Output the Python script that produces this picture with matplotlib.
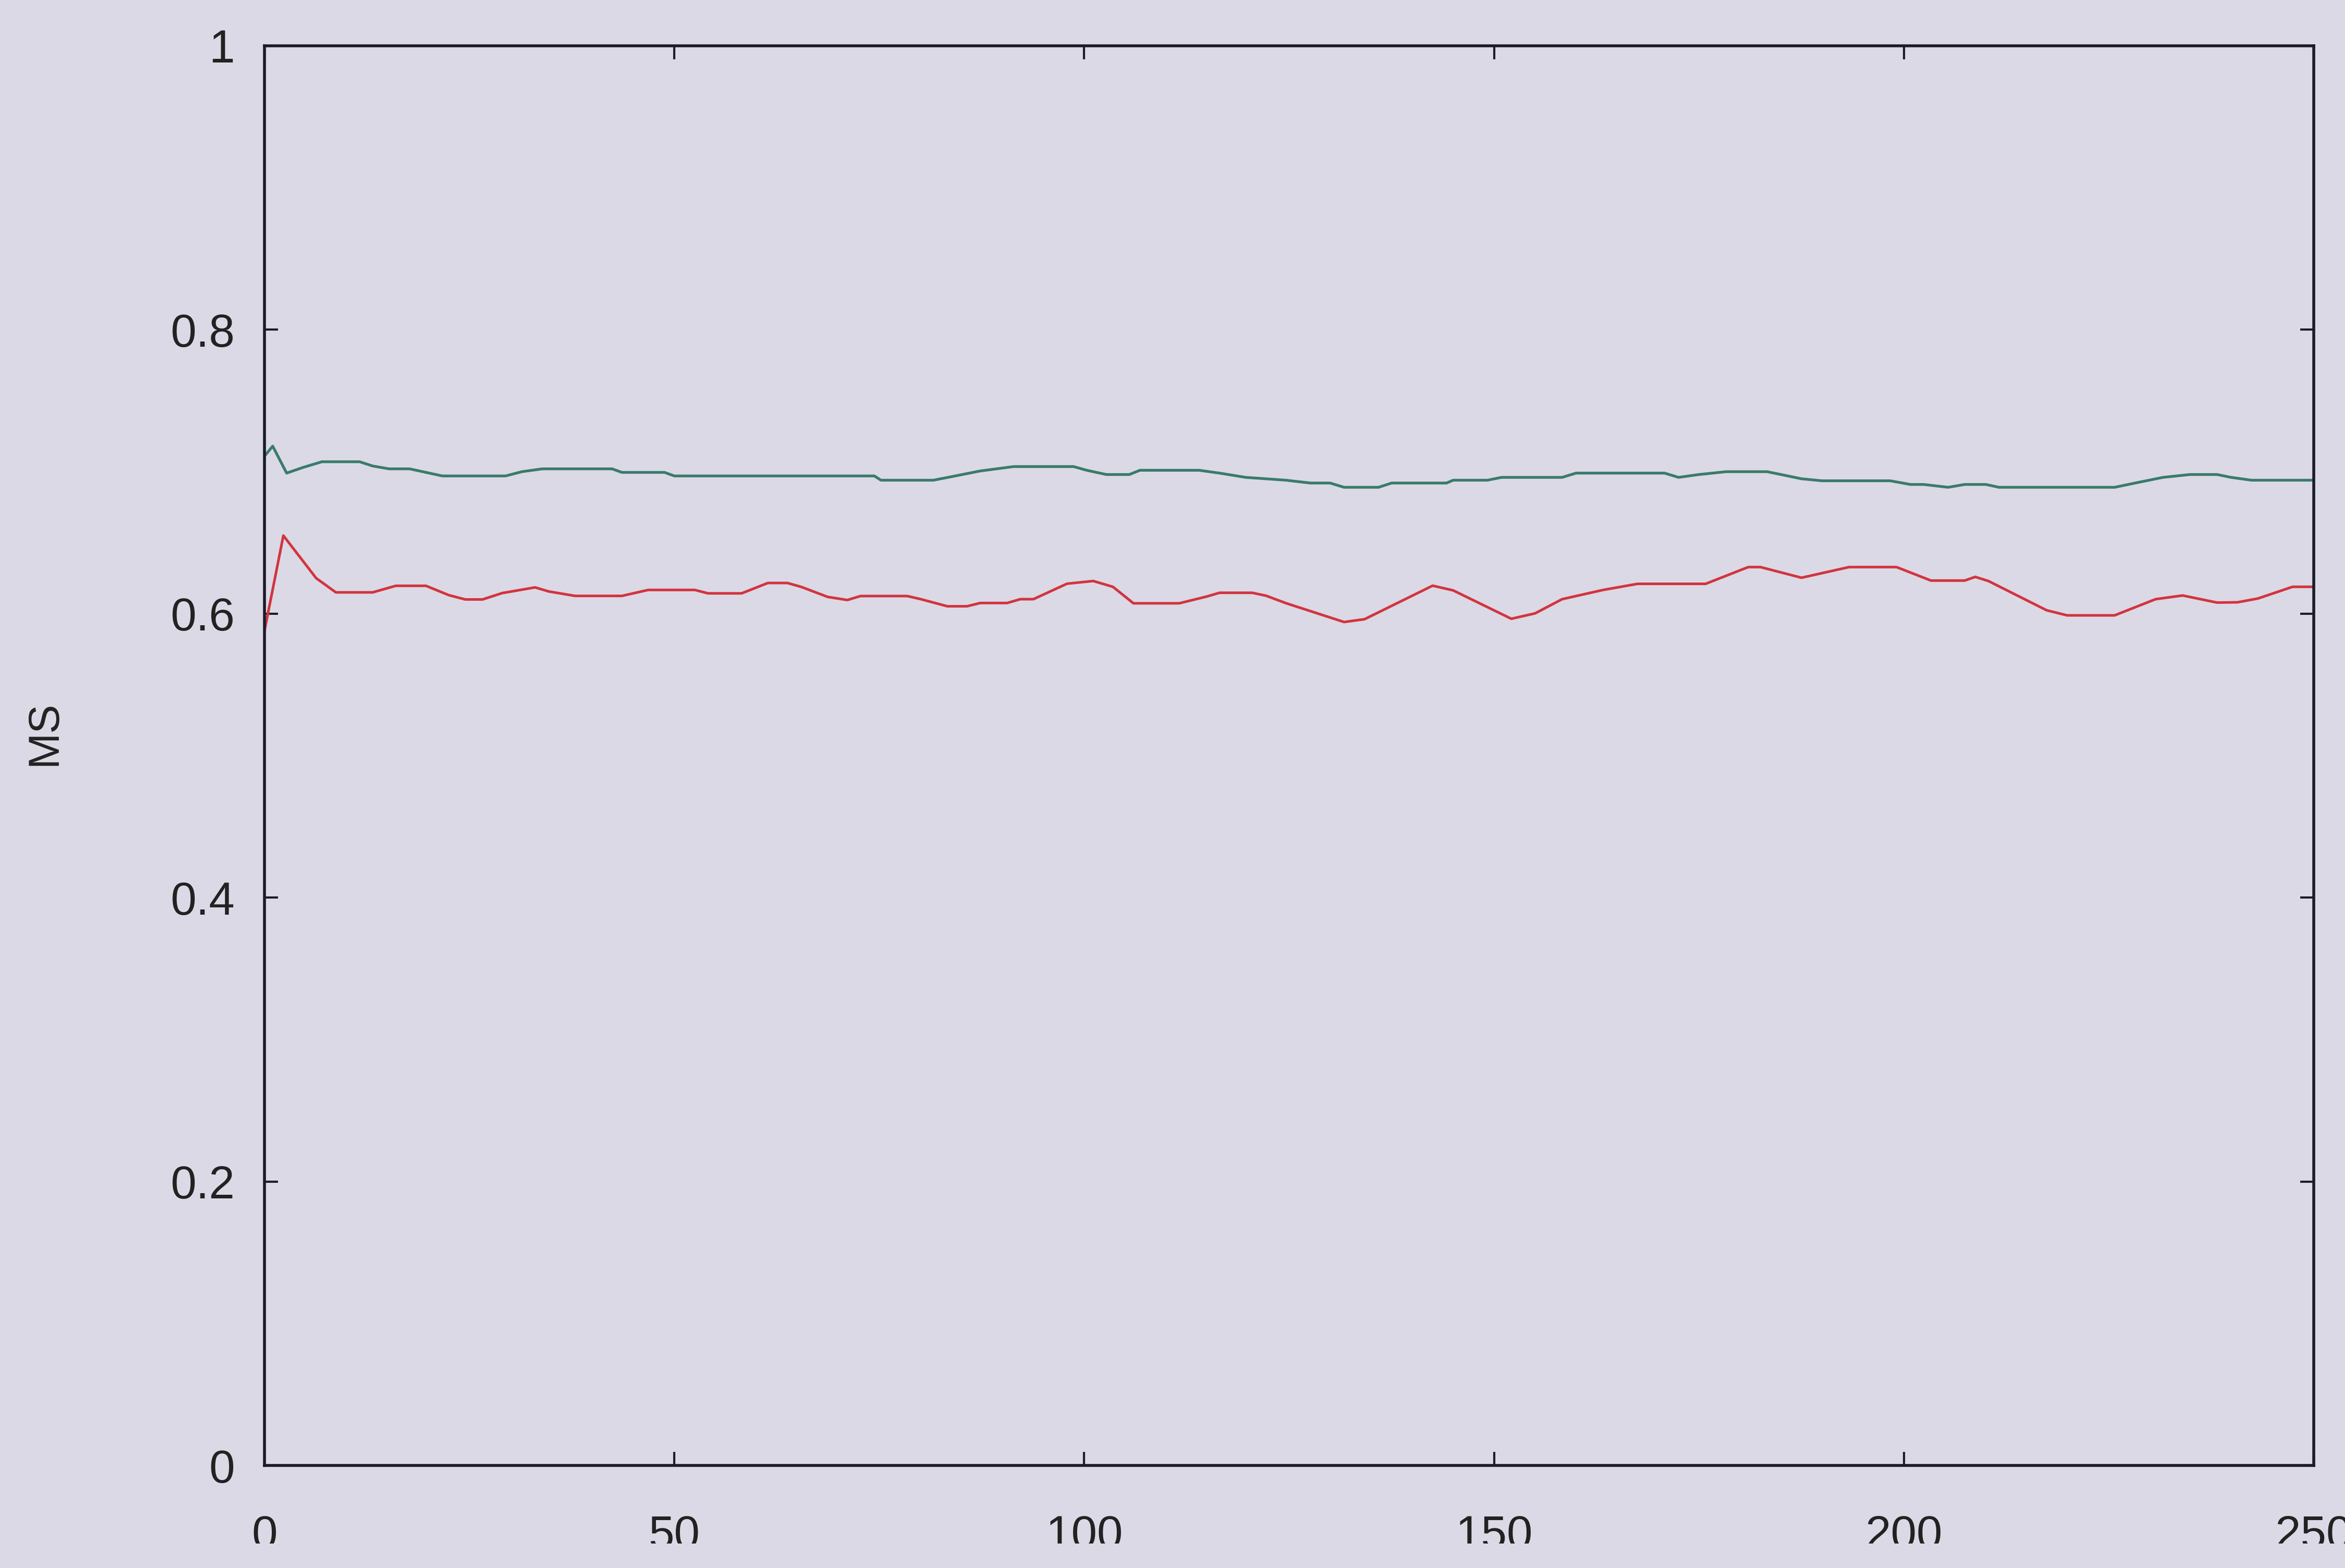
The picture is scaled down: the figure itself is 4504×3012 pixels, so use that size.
import matplotlib
matplotlib.use("Agg")
import matplotlib.pyplot as plt
from matplotlib.patches import Rectangle


# MS over the run, upper (green) curve
t_green = [0, 1, 2.7, 4.7, 7, 11.6, 13.2, 15.2, 17.7, 19.3, 21.7, 29.4, 31.4, 33.9,
           42.4, 43.6, 48.8, 50, 62, 74.4, 75.2, 81.6, 84, 87.3, 91.4, 98.7, 100.3,
           102.7, 105.5, 106.8, 114, 116.5, 119.7, 124.6, 127.6, 130, 131.7, 135.9,
           137.5, 144.2, 145, 149.2, 150.9, 158.3, 160, 170.8, 172.5, 175, 178.3,
           183.3, 185, 187.5, 190, 198.3, 200.8, 202.4, 205.4, 207.4, 210, 211.6,
           225.7, 228.2, 231.6, 234.9, 238.2, 239.9, 242.4, 250]
ms_green = [0.711, 0.718, 0.699, 0.703, 0.707, 0.707, 0.704, 0.702, 0.702, 0.700,
            0.697, 0.697, 0.700, 0.702, 0.702, 0.6995, 0.6995, 0.697, 0.697, 0.697,
            0.694, 0.694, 0.6967, 0.7005, 0.7036, 0.7036, 0.701, 0.698, 0.698, 0.701,
            0.701, 0.699, 0.696, 0.694, 0.692, 0.692, 0.689, 0.689, 0.692, 0.692,
            0.694, 0.694, 0.696, 0.696, 0.699, 0.699, 0.696, 0.698, 0.700, 0.700,
            0.698, 0.695, 0.6936, 0.6936, 0.691, 0.691, 0.689, 0.691, 0.691, 0.689,
            0.689, 0.692, 0.696, 0.698, 0.698, 0.696, 0.694, 0.694]

# lower (red) curve
t_red = [0, 2.3, 6.3, 8.7, 13.2, 16, 19.7, 22.5, 24.5, 26.6, 29, 33, 34.7, 37.9,
         43.6, 46.8, 52.5, 54.1, 58.2, 61.4, 63.8, 65.5, 68.7, 71.1, 72.7, 78.4, 80,
         83.3, 85.7, 87.3, 90.6, 92.2, 93.8, 97.9, 101.1, 103.5, 106, 111.6, 114.9,
         116.5, 120.5, 122.2, 124.6, 131.7, 134.2, 142.5, 145, 152.1, 155, 158.3,
         163.3, 167.5, 175.8, 181, 182.5, 187.5, 193.3, 199.1, 203.3, 207.4, 208.7,
         210.3, 217.4, 219.9, 225.7, 230.7, 234, 238.2, 240.7, 243.2, 247.4, 250]
ms_red = [0.588, 0.655, 0.625, 0.615, 0.615, 0.6196, 0.6196, 0.613, 0.610, 0.610,
          0.6145, 0.6185, 0.6156, 0.6125, 0.6125, 0.6167, 0.6167, 0.6143, 0.6143,
          0.6216, 0.6216, 0.6188, 0.6118, 0.6096, 0.6124, 0.6124, 0.6103, 0.6052,
          0.6052, 0.6075, 0.6075, 0.6102, 0.6102, 0.6211, 0.623, 0.6189, 0.6073,
          0.6073, 0.612, 0.6147, 0.6147, 0.6126, 0.6074, 0.5941, 0.5961, 0.6197,
          0.6164, 0.5964, 0.6002, 0.6102, 0.6167, 0.621, 0.621, 0.6328, 0.6328,
          0.6253, 0.6328, 0.6328, 0.6233, 0.6233, 0.6259, 0.623, 0.6024, 0.5988,
          0.5988, 0.6102, 0.6128, 0.6078, 0.608, 0.6107, 0.6189, 0.6189]

x_ticks = [0, 50, 100, 150, 200, 250]
y_ticks = [0, 0.2, 0.4, 0.6, 0.8, 1]
y_tick_labels = ["0", "0.2", "0.4", "0.6", "0.8", "1"]

BG = "#dbd9e5"
INK = "#1c1c28"


def plot():
	plt.rcParams["font.family"] = ["Liberation Sans", "DejaVu Sans"]

	fig = plt.figure(figsize=(45.04, 30.12), dpi=100, facecolor=BG)
	ax = fig.add_axes([0.1128, 0.0654, 0.8739, 0.9054], facecolor=BG)

	ax.plot(t_green, ms_green, "-", color="#3a7b6b", linewidth=3.8)
	ax.plot(t_red, ms_red, "-", color="#d2343f", linewidth=3.6)

	ax.set_xlim(0, 250)
	ax.set_ylim(0, 1)
	ax.set_xticks(x_ticks)
	ax.set_yticks(y_ticks)
	ax.set_yticklabels(y_tick_labels)

	for s in ax.spines.values():
		s.set_linewidth(4)
		s.set_color(INK)

	ax.tick_params(axis="both", direction="in", length=19, width=3, color=INK,
				   labelsize=64, labelcolor="#222222")
	ax.tick_params(axis="y", right=True, pad=41)
	ax.tick_params(axis="x", top=True, pad=68)

	fig.text(0.019, 0.5325, "MS", rotation=90, fontsize=60, color="#222222",
			 ha="center", va="center")

	# the lower part of the x labels is lost off the page
	fig.patches.append(Rectangle((0, 0), 1, 0.0155, transform=fig.transFigure,
								 facecolor=BG, edgecolor="none", zorder=10))

	fig.savefig("out.png", dpi=100, facecolor=BG)


def main():
	plot()
if __name__ == "__main__":
	main()
